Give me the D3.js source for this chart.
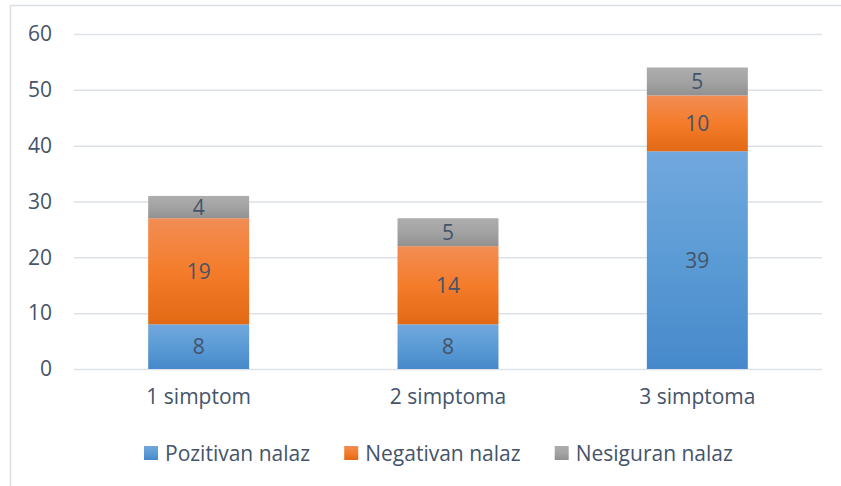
<!DOCTYPE html>
<html>
<head>
<meta charset="utf-8">
<script src="https://d3js.org/d3.v7.min.js"></script>
<style>
  body { margin: 0; background: #fff; }
  text { font-family: "Open Sans", sans-serif; fill: #44546A; }
</style>
</head>
<body>
<div id="chart"></div>
<script>

// data
const categories = ["1 simptom", "2 simptoma", "3 simptoma"];
const seriesNames = ["Pozitivan nalaz", "Negativan nalaz", "Nesiguran nalaz"];
const pozitivan = [8, 8, 39];
const negativan = [19, 14, 10];
const nesiguran = [4, 5, 5];
const yTicks = [0, 10, 20, 30, 40, 50, 60];

const rows = categories.map((c, i) => ({
  cat: c,
  "Pozitivan nalaz": pozitivan[i],
  "Negativan nalaz": negativan[i],
  "Nesiguran nalaz": nesiguran[i]
}));

const W = 841, H = 486;
const plot = {left: 74, right: 822, top: 34, bottom: 369};
const fs = "21px";

const svg = d3.select("#chart").append("svg")
  .attr("width", W).attr("height", H);

// gradients like the office fills
const grads = {
  "Pozitivan nalaz": ["#71A8DE", "#5B9BD5", "#4689CB"],
  "Negativan nalaz": ["#F28D55", "#F47C2A", "#E26A15"],
  "Nesiguran nalaz": ["#ADADAD", "#A3A3A3", "#919191"]
};
const defs = svg.append("defs");
seriesNames.forEach((s, i) => {
  const g = defs.append("linearGradient")
    .attr("id", "g" + i).attr("x1", 0).attr("y1", 0).attr("x2", 0).attr("y2", 1);
  g.append("stop").attr("offset", "0%").attr("stop-color", grads[s][0]);
  g.append("stop").attr("offset", "50%").attr("stop-color", grads[s][1]);
  g.append("stop").attr("offset", "100%").attr("stop-color", grads[s][2]);
});

// frame
svg.append("rect")
  .attr("x", 10.5).attr("y", 5.5).attr("width", 900).attr("height", 600)
  .attr("fill", "none").attr("stroke", "#D9DEE6").attr("stroke-width", 1.5);

const x = d3.scaleBand()
  .domain(categories)
  .range([plot.left, plot.right])
  .paddingInner(0.595)
  .paddingOuter(0.2975);

const y = d3.scaleLinear()
  .domain([0, 60])
  .range([plot.bottom, plot.top]);

// grid + y labels
const yAxis = svg.append("g")
  .attr("transform", `translate(${plot.left},0)`)
  .call(d3.axisLeft(y).tickValues(yTicks).tickSize(-(plot.right - plot.left)).tickPadding(22));
yAxis.select(".domain").remove();
yAxis.selectAll(".tick line").attr("stroke", "#DDE2E9").attr("stroke-width", 1.5);
yAxis.selectAll(".tick text")
  .style("font-family", "'Open Sans', sans-serif")
  .style("font-size", fs).attr("fill", "#44546A");

// stacked bars
const stacked = d3.stack().keys(seriesNames)(rows);

const layer = svg.append("g").selectAll("g")
  .data(stacked)
  .join("g")
    .attr("fill", (d, i) => `url(#g${i})`);

layer.selectAll("rect")
  .data(d => d)
  .join("rect")
    .attr("x", d => x(d.data.cat))
    .attr("y", d => y(d[1]))
    .attr("width", x.bandwidth())
    .attr("height", d => y(d[0]) - y(d[1]));

// value labels
layer.selectAll("text")
  .data(d => d)
  .join("text")
    .attr("x", d => x(d.data.cat) + x.bandwidth() / 2)
    .attr("y", d => (y(d[0]) + y(d[1])) / 2)
    .attr("dy", "0.36em")
    .attr("text-anchor", "middle")
    .style("font-size", fs)
    .text(d => d[1] - d[0]);

// x labels
const xAxis = svg.append("g")
  .attr("transform", `translate(0,${plot.bottom})`)
  .call(d3.axisBottom(x).tickSize(0).tickPadding(20));
xAxis.select(".domain").remove();
xAxis.selectAll(".tick text")
  .style("font-family", "'Open Sans', sans-serif")
  .style("font-size", fs).attr("fill", "#44546A");

// legend
const legend = svg.append("g");
const items = legend.selectAll("g").data(seriesNames).join("g");
items.append("rect")
  .attr("width", 14).attr("height", 14)
  .attr("y", -7)
  .attr("fill", (d, i) => `url(#g${i})`);
items.append("text")
  .attr("x", 21).attr("dy", "0.36em")
  .style("font-size", fs)
  .text(d => d);
let off = 0;
items.each(function() {
  const w = this.getBBox().width;
  d3.select(this).attr("transform", `translate(${off},0)`);
  off += w + 34;
});
const total = off - 34;
legend.attr("transform", `translate(${438.5 - total / 2},453)`);

</script>
</body>
</html>
